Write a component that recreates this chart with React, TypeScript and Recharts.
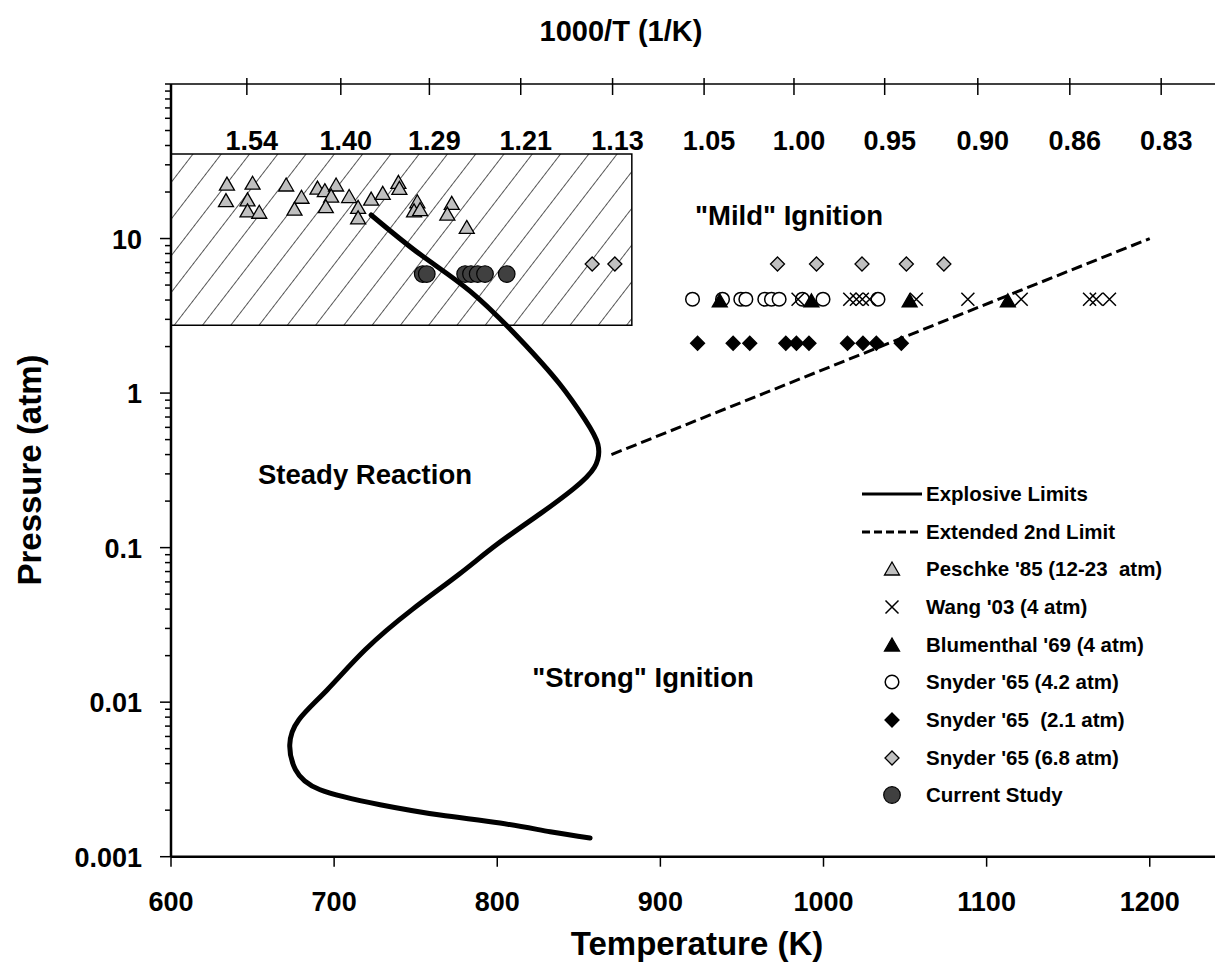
import React from 'react'
import { ComposedChart, Scatter, Line, XAxis, YAxis, ReferenceArea, Legend } from 'recharts'

// temperature (K) / pressure (atm)
const explosiveLimit = [
  { T: 722.7, P: 14.2 }, { T: 752.7, P: 7.9 }, { T: 783.3, P: 4.57 }, { T: 813.9, P: 2.23 },
  { T: 838.4, P: 1.14 }, { T: 853.7, P: 0.676 }, { T: 861.7, P: 0.466 }, { T: 859.5, P: 0.33 },
  { T: 846.7, P: 0.24 }, { T: 826.4, P: 0.166 }, { T: 799.9, P: 0.105 }, { T: 776.4, P: 0.067 },
  { T: 747.8, P: 0.0397 }, { T: 719.2, P: 0.0219 }, { T: 695.7, P: 0.012 }, { T: 678.4, P: 0.0077 },
  { T: 672.8, P: 0.0053 }, { T: 676.3, P: 0.00366 }, { T: 691.4, P: 0.00271 }, { T: 728.2, P: 0.00217 },
  { T: 765.0, P: 0.00186 }, { T: 801.7, P: 0.00165 }, { T: 832.4, P: 0.00145 }, { T: 856.9, P: 0.00132 },
]
const extendedLimit = [{ T: 870, P: 0.4 }, { T: 1200, P: 10 }]

const peschke85 = [
  { T: 634.3, P: 22.5 }, { T: 633.7, P: 17.6 }, { T: 650.0, P: 22.8 }, { T: 646.9, P: 17.8 },
  { T: 646.9, P: 15.1 }, { T: 654.1, P: 14.8 }, { T: 670.6, P: 22.2 }, { T: 680.0, P: 18.5 },
  { T: 675.7, P: 15.5 }, { T: 689.8, P: 21.2 }, { T: 694.3, P: 20.4 }, { T: 701.2, P: 22.2 },
  { T: 698.2, P: 18.8 }, { T: 694.9, P: 16.1 }, { T: 709.2, P: 18.7 }, { T: 714.7, P: 15.9 },
  { T: 714.7, P: 13.6 }, { T: 722.7, P: 18.0 }, { T: 729.8, P: 19.6 }, { T: 739.4, P: 23.1 },
  { T: 740.0, P: 21.1 }, { T: 751.0, P: 17.3 }, { T: 749.0, P: 15.1 }, { T: 752.7, P: 15.4 },
  { T: 772.1, P: 16.9 }, { T: 769.4, P: 14.4 }, { T: 781.3, P: 11.8 },
]
const wang03 = [
  { T: 984.4, P: 4.05 }, { T: 1016.1, P: 4.05 }, { T: 1020.2, P: 4.05 }, { T: 1023.8, P: 4.05 },
  { T: 1028.3, P: 4.05 }, { T: 1056.9, P: 4.05 }, { T: 1088.5, P: 4.05 }, { T: 1121.2, P: 4.05 },
  { T: 1163.1, P: 4.05 }, { T: 1167.2, P: 4.05 }, { T: 1175.3, P: 4.05 },
]
const blumenthal69 = [
  { T: 936.4, P: 3.95 }, { T: 992.6, P: 3.95 }, { T: 1052.8, P: 3.95 }, { T: 1113.0, P: 3.95 },
]
const snyder42 = [
  { T: 919.7, P: 4.05 }, { T: 938.1, P: 4.05 }, { T: 949.3, P: 4.05 }, { T: 952.4, P: 4.05 },
  { T: 964.0, P: 4.05 }, { T: 968.1, P: 4.05 }, { T: 972.8, P: 4.05 }, { T: 987.1, P: 4.05 },
  { T: 999.7, P: 4.05 }, { T: 1033.4, P: 4.05 },
]
const snyder21 = [
  { T: 922.8, P: 2.1 }, { T: 944.6, P: 2.1 }, { T: 954.8, P: 2.1 }, { T: 976.9, P: 2.1 },
  { T: 983.4, P: 2.1 }, { T: 991.1, P: 2.1 }, { T: 1014.7, P: 2.1 }, { T: 1024.2, P: 2.1 },
  { T: 1032.4, P: 2.1 }, { T: 1047.7, P: 2.1 },
]
const snyder68 = [
  { T: 858.2, P: 6.84 }, { T: 872.1, P: 6.84 }, { T: 971.8, P: 6.84 }, { T: 995.7, P: 6.84 },
  { T: 1023.6, P: 6.84 }, { T: 1050.8, P: 6.84 }, { T: 1073.8, P: 6.84 },
]
const currentStudy = [
  { T: 754.3, P: 5.89 }, { T: 756.8, P: 5.89 }, { T: 780.3, P: 5.89 }, { T: 783.9, P: 5.89 },
  { T: 788.0, P: 5.89 }, { T: 792.5, P: 5.89 }, { T: 805.8, P: 5.89 },
]

// hatched region of the Peschke data
const boxT = [600, 882.5]
const boxP = [2.75, 35.3]

const xTicks = [600, 700, 800, 900, 1000, 1100, 1200]
const topTicks = [646.5, 704.1, 758.4, 814.4, 870.7, 926.8, 981.9, 1037.5, 1094.6, 1151, 1207]
const topLabels = ['1.54', '1.40', '1.29', '1.21', '1.13', '1.05', '1.00', '0.95', '0.90', '0.86', '0.83']
const yMajor = [0.001, 0.01, 0.1, 1, 10]
const yMajorLabels = ['0.001', '0.01', '0.1', '1', '10']
const yMinorSteps = [2, 3, 4, 5, 6, 7, 8, 9]
const yTicks = [...yMajor.flatMap((d) => [d, ...yMinorSteps.map((m) => m * d)]), 100]

const FONT = '"Liberation Sans", Arial, sans-serif'

type Kind = 'solid' | 'dashed' | 'triGray' | 'x' | 'triBlack' | 'circleOpen' | 'diamondBlack' | 'diamondGray' | 'circleDark'

function marker(kind: Kind, cx: number, cy: number) {
  switch (kind) {
    case 'triGray':
    case 'triBlack':
      return (
        <path d={`M${cx},${cy - 7}L${cx + 7.5},${cy + 6}L${cx - 7.5},${cy + 6}Z`}
          fill={kind === 'triGray' ? '#c0c0c0' : '#000'} stroke="#000" strokeWidth={1.3} />
      )
    case 'x':
      return (
        <path d={`M${cx - 6.5},${cy - 6.5}L${cx + 6.5},${cy + 6.5}M${cx - 6.5},${cy + 6.5}L${cx + 6.5},${cy - 6.5}`}
          stroke="#000" strokeWidth={1.5} fill="none" />
      )
    case 'diamondBlack':
    case 'diamondGray':
      return (
        <path d={`M${cx},${cy - 7}L${cx + 7},${cy}L${cx},${cy + 7}L${cx - 7},${cy}Z`}
          fill={kind === 'diamondGray' ? '#c0c0c0' : '#000'} stroke="#000" strokeWidth={1.3} />
      )
    case 'circleOpen':
      return <circle cx={cx} cy={cy} r={6.8} fill="#fff" stroke="#000" strokeWidth={1.5} />
    case 'circleDark':
      return <circle cx={cx} cy={cy} r={8.3} fill="#404040" stroke="#000" strokeWidth={1.2} />
    default:
      return null
  }
}

const legendItems: { label: string; kind: Kind }[] = [
  { label: 'Explosive Limits', kind: 'solid' },
  { label: 'Extended 2nd Limit', kind: 'dashed' },
  { label: "Peschke '85 (12-23  atm)", kind: 'triGray' },
  { label: "Wang '03 (4 atm)", kind: 'x' },
  { label: "Blumenthal '69 (4 atm)", kind: 'triBlack' },
  { label: "Snyder '65 (4.2 atm)", kind: 'circleOpen' },
  { label: "Snyder '65  (2.1 atm)", kind: 'diamondBlack' },
  { label: "Snyder '65 (6.8 atm)", kind: 'diamondGray' },
  { label: 'Current Study', kind: 'circleDark' },
]

function LegendBox() {
  return (
    <div style={{ fontFamily: FONT, fontWeight: 'bold', fontSize: 20.5 }}>
      {legendItems.map((it) => (
        <div key={it.label} style={{ display: 'flex', alignItems: 'center', height: 37.7 }}>
          <svg width={68} height={20} style={{ flex: 'none' }}>
            {it.kind === 'solid' && <line x1={4} x2={64} y1={10} y2={10} stroke="#000" strokeWidth={3} />}
            {it.kind === 'dashed' && <line x1={4} x2={64} y1={10} y2={10} stroke="#000" strokeWidth={3} strokeDasharray="8 4" />}
            {marker(it.kind, 34, 10)}
          </svg>
          <span style={{ whiteSpace: 'pre', color: '#000' }}>{it.label}</span>
        </div>
      ))}
    </div>
  )
}

function YTick(props: any) {
  const { x, y, payload } = props
  const i = yMajor.indexOf(payload.value)
  return (
    <g>
      <line x1={x} x2={x - (i >= 0 ? 11 : 6)} y1={y} y2={y} stroke="#000" strokeWidth={1.5} />
      {i >= 0 && (
        <text x={x - 29} y={y + 10} textAnchor="end" fontFamily={FONT} fontWeight="bold" fontSize={27} fill="#000">
          {yMajorLabels[i]}
        </text>
      )}
    </g>
  )
}

function TopTick(props: any) {
  const { x, y, index } = props
  return (
    <g>
      <line x1={x} x2={x} y1={y - 6} y2={y + 11} stroke="#000" strokeWidth={1.5} />
      <text x={x + 5} y={y + 66} textAnchor="middle" fontFamily={FONT} fontWeight="bold" fontSize={27} fill="#000">
        {topLabels[index]}
      </text>
    </g>
  )
}

const textStyle: React.CSSProperties = {
  position: 'absolute', fontFamily: FONT, fontWeight: 'bold', color: '#000',
  whiteSpace: 'nowrap', transform: 'translate(-50%, -50%)',
}

export default function App() {
  const shape = (kind: Kind) => (p: any) => marker(kind, p.cx, p.cy)
  return (
    <div style={{ position: 'absolute', left: 0, top: 0, width: 1215, height: 966, background: '#fff' }}>
      <svg width={0} height={0} style={{ position: 'absolute' }}>
        <defs>
          <pattern id="hatch" patternUnits="userSpaceOnUse" width={22.4} height={22.4} patternTransform="rotate(37.6)">
            <line x1={0} y1={0} x2={0} y2={22.4} stroke="#000" strokeWidth={1.3} />
          </pattern>
        </defs>
      </svg>
      <ComposedChart width={1215} height={966} margin={{ top: 54, right: 0, bottom: 0, left: 0 }}>
        <XAxis xAxisId="bottom" dataKey="T" type="number" domain={[600, 1240]} allowDataOverflow ticks={xTicks}
          tick={{ fontFamily: FONT, fontWeight: 'bold', fontSize: 27, fill: '#000' }}
          tickSize={10} tickMargin={25} height={109.3}
          axisLine={{ stroke: '#000', strokeWidth: 2.5 }} tickLine={{ stroke: '#000', strokeWidth: 1.5 }} />
        <XAxis xAxisId="top" orientation="top" dataKey="T" type="number" domain={[600, 1240]} allowDataOverflow
          ticks={topTicks} tick={<TopTick />} tickLine={false} tickSize={0} tickMargin={0} height={30}
          axisLine={{ stroke: '#000', strokeWidth: 1.5 }} interval={0} />
        <YAxis dataKey="P" type="number" scale="log" domain={[0.001, 100]} allowDataOverflow ticks={yTicks}
          tick={<YTick />} tickLine={false} tickSize={0} tickMargin={0} width={171} interval={0}
          axisLine={{ stroke: '#000', strokeWidth: 2.5 }} />
        <ReferenceArea xAxisId="bottom" x1={boxT[0]} x2={boxT[1]} y1={boxP[0]} y2={boxP[1]}
          fill="url(#hatch)" fillOpacity={1} stroke="#000" strokeWidth={1.5} />
        <Scatter xAxisId="bottom" name="Peschke '85 (12-23 atm)" data={peschke85} shape={shape('triGray')} isAnimationActive={false} />
        <Scatter xAxisId="bottom" name="Snyder '65 (6.8 atm)" data={snyder68} shape={shape('diamondGray')} isAnimationActive={false} />
        <Scatter xAxisId="bottom" name="Snyder '65 (4.2 atm)" data={snyder42} shape={shape('circleOpen')} isAnimationActive={false} />
        <Scatter xAxisId="bottom" name="Wang '03 (4 atm)" data={wang03} shape={shape('x')} isAnimationActive={false} />
        <Scatter xAxisId="bottom" name="Blumenthal '69 (4 atm)" data={blumenthal69} shape={shape('triBlack')} isAnimationActive={false} />
        <Scatter xAxisId="bottom" name="Snyder '65 (2.1 atm)" data={snyder21} shape={shape('diamondBlack')} isAnimationActive={false} />
        <Scatter xAxisId="bottom" name="Current Study" data={currentStudy} shape={shape('circleDark')} isAnimationActive={false} />
        <Line xAxisId="bottom" name="Extended 2nd Limit" data={extendedLimit} dataKey="P" type="linear" stroke="#000"
          strokeWidth={3} strokeDasharray="11 5" dot={false} isAnimationActive={false} />
        <Line xAxisId="bottom" name="Explosive Limits" data={explosiveLimit} dataKey="P" type="natural" stroke="#000"
          strokeWidth={5} strokeLinecap="round" dot={false} isAnimationActive={false} />
        <Legend layout="vertical" align="center" verticalAlign="middle" content={() => <LegendBox />}
          wrapperStyle={{ left: 858, top: 475, width: 340 }} />
      </ComposedChart>
      <div style={{ ...textStyle, left: 621, top: 31, fontSize: 29 }}>1000/T (1/K)</div>
      <div style={{ ...textStyle, left: 30, top: 470, fontSize: 33, transform: 'translate(-50%, -50%) rotate(-90deg)' }}>Pressure (atm)</div>
      <div style={{ ...textStyle, left: 697, top: 944, fontSize: 33 }}>Temperature (K)</div>
      <div style={{ ...textStyle, left: 365, top: 475, fontSize: 27.5 }}>Steady Reaction</div>
      <div style={{ ...textStyle, left: 789, top: 216, fontSize: 27.5 }}>"Mild" Ignition</div>
      <div style={{ ...textStyle, left: 643, top: 678, fontSize: 27.5 }}>"Strong" Ignition</div>
    </div>
  )
}
